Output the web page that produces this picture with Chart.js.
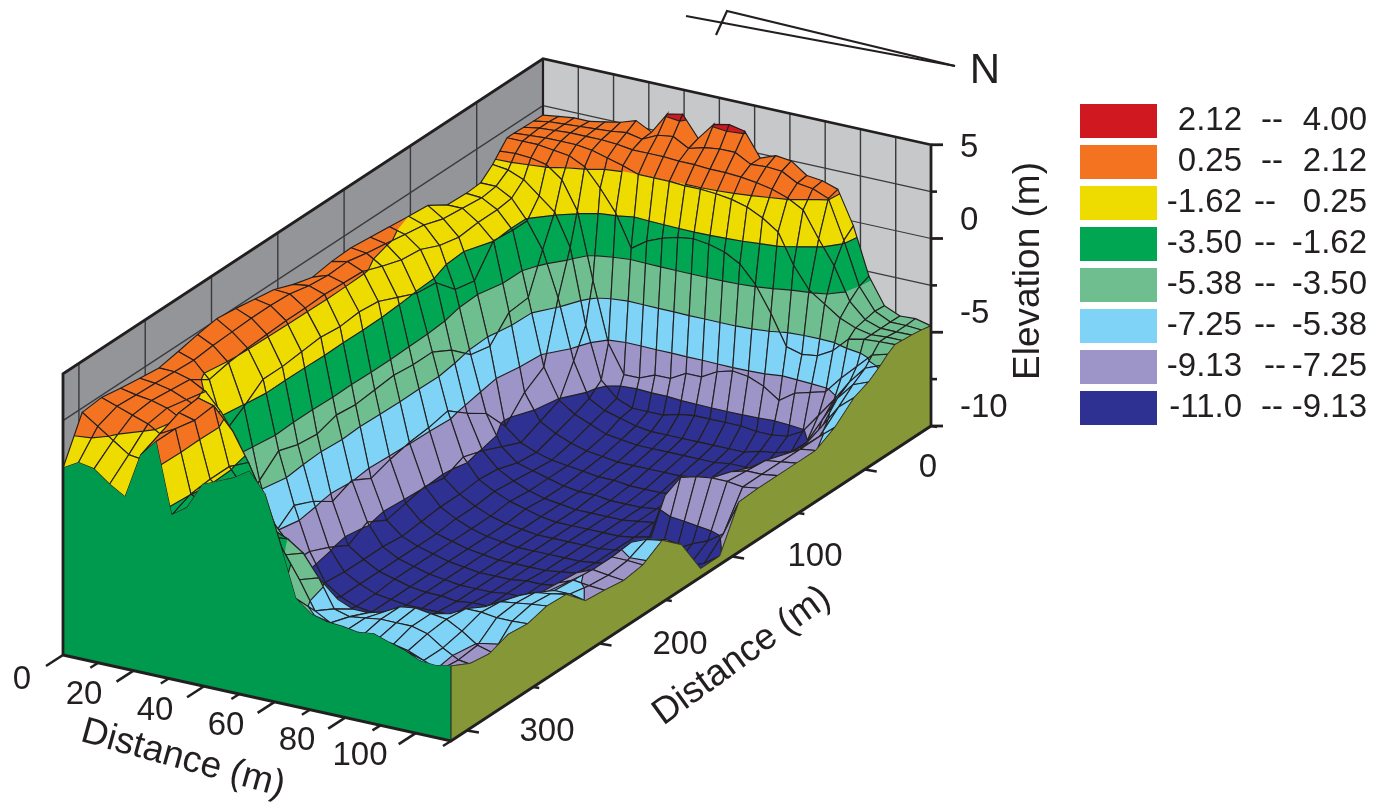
<!DOCTYPE html>
<html><head><meta charset="utf-8">
<style>html,body{margin:0;padding:0;background:#fff}canvas{display:block}</style>
<script src="https://cdn.jsdelivr.net/npm/chart.js@4/dist/chart.umd.js"></script>
</head><body><canvas id="c" width="1387" height="805"></canvas>
<script>
// ---------- data ----------
const xDistance=[0,4.4,8.8,13.2,17.6,22,26.4,30.8,35.2,39.6,44,48.4,52.8,57.2,61.6,66,70.4,74.8,79.2,83.6,88,92.4,96.8,101.2,105.6,110];
const yDistance=[312,297.5,283,268.6,254.1,239.6,225.1,210.6,196.2,181.7,167.2,152.7,138.2,123.8,109.3,94.8,80.3,65.8,51.4,36.9,22.4,7.9,-2.9,-12,-17.4,-22.9,-28.3,-35.5,-42.8,-50];
const r00=[-.92,-.5,-.64,-1.2,-1.63,.49,1.29,-2,-1.48,-.24,.07,.39,.86,-.03,-2.28,-4.63,-5.2,-5.4,-5.45,-5.57,-5.47,-5.71,-5.94,-6.27,-6.32,-6.18];
const r01=[1.1,.6,.1,-.4,-.5,.9,1.3,-1.6,-2,-2.2,-2.2,-2.4,-2.8,-3.5,-4.5,-5.8,-6.2,-6.4,-6.5,-6.5,-6.6,-6.7,-7,-7.3,-7.5,-6.65];
const r02=[1.2,.95,.7,.45,0,1.3,1.1,-1.5,-2.1,-2.5,-2.8,-3.2,-3.5,-4,-5,-6.3,-6.5,-6.4,-6.3,-6.3,-6.3,-6.5,-7,-7.4,-7.5,-6.79];
const r03=[1.05,.9,.8,.6,.2,1.4,1.2,-1.5,-2.4,-3.1,-3.8,-4.6,-6,-6.4,-6.6,-6.9,-6.9,-6.7,-6.3,-6.2,-6.3,-6.4,-6.8,-7.3,-7.5,-6.46];
const r04=[.93,.85,.7,.4,.1,-.1,-.6,-1.9,-3.4,-5,-6.5,-8,-9.2,-9.9,-10.1,-10.1,-10,-9.8,-9.4,-8.2,-6.9,-6.5,-6.5,-6.6,-6.6,-6.56];
const r05=[.82,.8,.6,.2,-.6,-1.7,-3.2,-4.8,-6.6,-8.5,-9.5,-10,-10.3,-10.5,-10.5,-10.5,-10.4,-10.3,-10.1,-9.7,-8.5,-7,-6.6,-6.5,-6.4,-6.32];
const r06=[1,.75,0,-2.3,-6,-7,-7.7,-8.8,-9.4,-10,-10.3,-10.5,-10.6,-10.7,-10.7,-10.7,-10.6,-10.5,-10.3,-10,-9.2,-7.6,-6.9,-6.6,-6.5,-6.37];
const r07=[1.2,.85,.2,-1.7,-5,-7.3,-8.6,-9.4,-10,-10.5,-10.6,-10.7,-10.8,-10.8,-10.8,-10.8,-10.8,-10.7,-10.6,-10.4,-9.8,-8.2,-7.4,-7.1,-7.1,-7.26];
const r08=[1.35,.9,.3,-1,-4.2,-6.6,-8.6,-9.9,-10.4,-10.7,-10.8,-10.8,-10.8,-10.8,-10.8,-10.8,-10.7,-10.6,-10.5,-10.3,-9.8,-8.6,-7.5,-7.2,-7.3,-7.35];
const r09=[1.25,.95,.35,-1,-4.5,-7,-9,-10,-10.4,-10.7,-10.8,-10.9,-10.9,-10.9,-10.9,-10.9,-10.8,-10.7,-10.6,-10.4,-10,-9,-7.6,-7.3,-7.4,-7.49];
const r10=[1.1,.95,.4,-.9,-4.6,-7.6,-9.5,-10,-10.4,-10.6,-10.8,-10.9,-10.9,-11,-10.9,-10.9,-10.8,-10.7,-10.6,-10.4,-10.2,-9.5,-8,-7.3,-7.3,-7.35];
const r11=[.95,.9,.4,-.8,-4.3,-7.2,-9,-10,-10.4,-10.6,-10.8,-10.9,-11,-11,-11,-10.9,-10.9,-10.8,-10.7,-10.5,-10.3,-9.8,-8.3,-7.2,-6.9,-6.79];
const r12=[.6,.7,.45,-.9,-4.4,-7.7,-9.5,-10.1,-10.4,-10.6,-10.8,-10.9,-11,-11,-11,-10.9,-10.9,-10.8,-10.7,-10.6,-10.4,-10,-9,-7.8,-7.5,-7.59];
const r13=[.35,.6,.4,-.8,-4.3,-7.4,-9.3,-10,-10.4,-10.6,-10.8,-10.9,-11,-11,-11,-11,-10.9,-10.8,-10.7,-10.6,-10.4,-10.2,-9.8,-9.5,-9.4,-9.3];
const r14=[.5,.65,.35,-.9,-4.2,-7.2,-9.1,-9.9,-10.3,-10.6,-10.8,-10.9,-11,-11,-11,-11,-11,-10.9,-10.8,-10.7,-10.6,-10.5,-10.3,-10.1,-9.8,-9.3];
const r15=[.55,.45,0,-1.3,-4.3,-7.1,-9.3,-9.9,-10.3,-10.6,-10.8,-10.9,-11,-11,-11,-11,-11,-10.9,-10.8,-10.7,-10.5,-10.2,-9.8,-9.5,-9,-7.35];
const r16=[.45,.3,-.3,-1.7,-4.3,-6.9,-8.9,-9.8,-10.2,-10.5,-10.7,-10.9,-11,-11,-11,-11,-11,-10.9,-10.7,-8.6,-7.6,-7.4,-7.3,-7.3,-7.4,-7.3];
const r17=[.35,.15,-.4,-1.8,-4.8,-7.6,-9.2,-9.9,-10.3,-10.6,-10.8,-10.9,-11,-11,-11,-11,-10.9,-10.8,-10.7,-10.5,-10.2,-8.6,-7.6,-7.4,-7.4,-7.3];
const r18=[.25,0,-.8,-2.7,-5.6,-8.2,-9.6,-10.2,-10.4,-10.6,-10.8,-10.9,-10.9,-11,-11,-11,-10.9,-10.8,-10.7,-10.6,-10.4,-9.5,-8,-7.5,-7.4,-7.3];
const r19=[.17,-.3,-1,-2.9,-5.8,-9.4,-10,-10.3,-10.5,-10.6,-10.7,-10.8,-10.8,-10.9,-10.9,-10.9,-10.8,-10.7,-10.6,-10.6,-10.5,-10.2,-9.3,-7.8,-7.4,-7.3];
const r20=[-.4,-.4,-.9,-1.6,-4.8,-8.4,-9.6,-10,-10.3,-10.5,-10.6,-10.7,-10.7,-10.7,-10.7,-10.7,-10.6,-10.5,-10.5,-10.5,-10.4,-10.3,-10,-8,-7.4,-6.8];
const r21=[-.45,-.5,-.9,-1.7,-4.7,-7.8,-9.2,-9.7,-10,-10.3,-10.4,-10.5,-10.5,-10.5,-10.5,-10.5,-10.5,-10.4,-10.4,-10.3,-10.2,-10,-9.5,-7.6,-6.6,-6];
const r22=[-.4,-.4,-.8,-1.7,-2.9,-5,-7.8,-9.4,-9.8,-10,-10.2,-10.3,-10.3,-10.3,-10.3,-10.3,-10.3,-10.3,-10.1,-10,-9.8,-9.2,-8,-6.8,-6,-5.71];
const r23=[.09,0,-.3,-.9,-1.5,-3,-6.5,-8.9,-9.6,-9.9,-9.9,-9.9,-9.7,-9.6,-9.6,-9.6,-9.6,-9.7,-9.7,-9.6,-9.2,-8.3,-7.4,-6.4,-5.6,-5.3];
const r24=[.5,.55,.5,.35,-.2,-1.5,-4.6,-7.4,-8.7,-8.7,-8.4,-8.4,-8,-8,-7.6,-7.4,-7.5,-7.8,-8.3,-7.8,-7.6,-7.4,-6.6,-5.9,-5.2,-5];
const r25=[.9,.9,.9,.8,.7,.35,-.5,-1.5,-3,-2.5,-2.2,-2,-1.9,-2,-2.2,-2.6,-3.4,-4.6,-6,-6.2,-6.1,-5.7,-5,-4.85,-4.8,-4.77];
const r26=[.9,.95,1,1,1,.9,.7,.5,.25,.25,.25,.2,.2,.15,.05,-.15,-.5,-1,-2.4,-3.4,-3.9,-4.4,-4.7,-4.85,-4.8,-4.8];
const r27=[.88,1,1.05,1.1,1.1,1.1,1.05,.95,.95,.95,.9,.9,.85,.85,.8,.7,.55,.3,-.1,-1.3,-2.4,-3.9,-4.6,-4.85,-4.85,-4.84];
const r28=[.87,1,1.05,1.1,1.15,1.2,1.3,1.15,1.5,1.6,1.2,1.4,1.5,1.5,1.1,1.15,1.1,.7,.6,.3,-1.5,-3.5,-4.5,-4.85,-4.85,-4.9];
const r29=[.86,.96,1.05,1.05,1.19,1.33,1.57,1.19,2.2,2.35,1.38,2.2,2.35,2.2,1.1,1.38,1.29,.77,.68,.44,-1.11,-3.31,-4.54,-4.86,-4.82,-5];
const elevationRows=[r00,r01,r02,r03,r04,r05,r06,r07,r08,r09,r10,r11,r12,r13,r14,r15,r16,r17,r18,r19,r20,r21,r22,r23,r24,r25,r26,r27,r28,r29];

const legendLow=["2.12","0.25","-1.62","-3.50","-5.38","-7.25","-9.13","-11.0"];
const legendHigh=["4.00","2.12","0.25","-1.62","-3.50","-5.38","-7.25","-9.13"];
const bandColors=["#CF1820","#F47321","#EEDC00","#00A651","#6FBE8F","#7FD3F7","#9D94C8","#2E3192"];
const xMajor=[0,20,40,60,80,100], xMinor=[10,30,50,70,90,110];
const yMajor=[0,100,200,300], yMinor=[-50,50,150,250];
const zMajor=[5,0,-5,-10], zMinor=[2.5,-2.5,-7.5];
const wallX=[10,20,30,40,50,60,70,80,90,100];
const wallY=[300,250,200,150,100,50,0];
const wallZ=[2.5,0,-2.5,-5,-7.5];

// ---------- projection into chart units ----------
const INK="#231F20";
const xMax=110,yFront=312,ySpan=362;
function base(x,y){const u=x/xMax,w=(yFront-y)/ySpan;return {x:63+388*u+480*w,y:655+86*u-315*w};}
function wallPt(x,y,z){const b=base(x,y);return {x:b.x,y:b.y-18.75*(z+10)};}
function surfPt(x,y,z){const b=base(x,y);return {x:b.x,y:b.y-21.3*(z+9.7),z:z};}

// ---------- datasets in paint order ----------
const paint=[];
function poly(pts,fill,stroke,lw){
  paint.push({data:pts.concat([pts[0]]).map(p=>({x:p.x,y:p.y})),showLine:true,fill:'shape',
    backgroundColor:fill,borderColor:stroke||'transparent',borderWidth:lw||0,pointRadius:0,tension:0,clip:false,borderJoinStyle:'round'});
}
function line(pts,color,lw){
  paint.push({data:pts.map(p=>p?({x:p.x,y:p.y}):({x:null,y:null})),showLine:true,fill:false,
    borderColor:color,borderWidth:lw,pointRadius:0,tension:0,clip:false,spanGaps:false,borderCapStyle:'butt'});
}
const xEnd=xMax, yB=-50;
// walls
poly([wallPt(0,yFront,5),wallPt(0,yB,5),wallPt(0,yB,-10),wallPt(0,yFront,-10)],"#939598");
poly([wallPt(0,yB,5),wallPt(xEnd,yB,5),wallPt(xEnd,yB,-10),wallPt(0,yB,-10)],"#C7C8CA");
wallX.forEach(x=>line([wallPt(x,yB,5),wallPt(x,yB,-10)],"#3a3a3c",1.4));
wallY.forEach(y=>line([wallPt(0,y,5),wallPt(0,y,-10)],"#3a3a3c",1.4));
wallZ.forEach(z=>{line([wallPt(0,yB,z),wallPt(xEnd,yB,z)],"#3a3a3c",1.2);line([wallPt(0,yFront,z),wallPt(0,yB,z)],"#3a3a3c",1.2);});
line([wallPt(0,yB,5),wallPt(0,yB,-10)],INK,2.2);

// surface
const lows=[2.12,.25,-1.62,-3.5,-5.38,-7.25,-9.13,-Infinity];
const highs=[Infinity,2.12,.25,-1.62,-3.5,-5.38,-7.25,-9.13];
function cut(pg,t,keepAbove){
  const out=[];
  for(let i=0;i<pg.length;i++){
    const a=pg[i],b=pg[(i+1)%pg.length];
    const ia=keepAbove?a.z>=t:a.z<=t, ib=keepAbove?b.z>=t:b.z<=t;
    if(ia) out.push(a);
    if(ia!==ib){const f=(t-a.z)/(b.z-a.z);out.push({x:a.x+(b.x-a.x)*f,y:a.y+(b.y-a.y)*f,z:t});}
  }
  return out;
}
function crossing(pg,t){
  const c=[];
  for(let i=0;i<pg.length;i++){
    const a=pg[i],b=pg[(i+1)%pg.length];
    if((a.z-t)*(b.z-t)<0){const f=(t-a.z)/(b.z-a.z);c.push({x:a.x+(b.x-a.x)*f,y:a.y+(b.y-a.y)*f});}
  }
  return c;
}
const MESH=1.15;
for(let j=yDistance.length-2;j>=0;j--){
  for(let i=0;i<xDistance.length-1;i++){
    const q=[surfPt(xDistance[i],yDistance[j],elevationRows[j][i]),
             surfPt(xDistance[i+1],yDistance[j],elevationRows[j][i+1]),
             surfPt(xDistance[i+1],yDistance[j+1],elevationRows[j+1][i+1]),
             surfPt(xDistance[i],yDistance[j+1],elevationRows[j+1][i])];
    const pieces=[];
    bandColors.forEach((col,b)=>{
      let pg=q;
      if(isFinite(lows[b])) pg=cut(pg,lows[b],true);
      if(pg.length>=3&&isFinite(highs[b])) pg=cut(pg,highs[b],false);
      if(pg.length>=3) pieces.push({pg,col});
    });
    if(pieces.length===1){poly(q,pieces[0].col,INK,MESH);continue;}
    pieces.forEach(p=>poly(p.pg,p.col,p.col,0.4));
    const path=q.concat([q[0]]);
    lows.forEach(t=>{
      if(!isFinite(t))return;
      const c=crossing(q,t);
      if(c.length===2){path.push(null,c[0],c[1]);}
      else if(c.length===4){path.push(null,c[0],c[1],null,c[2],c[3]);}
    });
    line(path,INK,MESH);
  }
}
// front and side faces
const frontTop=xDistance.map((x,i)=>surfPt(x,yFront,r00[i]));
poly([wallPt(0,yFront,-10)].concat(frontTop,[wallPt(xMax,yFront,-10)]),"#009A4E");
const sideTop=yDistance.map((y,j)=>surfPt(xMax,y,elevationRows[j][25]));
poly([wallPt(xMax,yFront,-10)].concat(sideTop,[wallPt(xMax,yB,-10)]),"#869737");
line([wallPt(xMax,yFront,-10),frontTop[25]],INK,1);
line(sideTop,"#3a3a20",0.8);
line([wallPt(xMax,yB,-10),sideTop[sideTop.length-1]],INK,1);

// axes
line([wallPt(0,yFront,-10),wallPt(0,yFront,5),wallPt(0,yB,5),wallPt(xMax,yB,5),wallPt(xMax,yB,-10)],INK,2.8);
line([wallPt(0,yFront,-10),wallPt(xMax,yFront,-10),wallPt(xMax,yB,-10)],INK,3);
function tick(p,dx,dy,lw){line([p,{x:p.x+dx,y:p.y+dy}],INK,lw);}
xMajor.forEach(x=>tick(wallPt(x,yFront,-10),-17,11,2.6));
xMinor.forEach(x=>tick(wallPt(x,yFront,-10),-8,5,2.4));
yMajor.forEach(y=>tick(wallPt(xMax,y,-10),12,2,2.4));
yMinor.forEach(y=>tick(wallPt(xMax,y,-10),6,1,2.4));
zMajor.forEach(z=>tick(wallPt(xMax,yB,z),12,0,2.8));
zMinor.forEach(z=>tick(wallPt(xMax,yB,z),6,0,2.6));

// north arrow
line([{x:686,y:16},{x:955,y:66}],INK,2.2);
line([{x:716,y:35},{x:727,y:11},{x:955,y:66}],INK,2.2);

// legend swatches
bandColors.forEach((c,i)=>{
  const t=104+41*i;
  poly([{x:1080,y:t},{x:1157,y:t},{x:1157,y:t+34},{x:1080,y:t+34}],c);
});

// ---------- text ----------
const FONT='"Liberation Sans", Arial, sans-serif';
const dashX=[1272,1272,1265,1265,1265,1265,1275,1272];
const xLabelPos=[[22,680],[84,695],[155,711],[226,726],[297,741],[360,756]];
const yLabelPos=[[928,468],[815,557],[680,645],[547,732]];
const zLabelPos=[148,221,314,408];
const textPlugin={id:'labels',afterDraw(chart){
  const g=chart.ctx;g.save();g.fillStyle=INK;g.textBaseline='middle';
  const T=(s,x,y,size,al,rot)=>{g.save();g.translate(x,y);g.rotate((rot||0)*Math.PI/180);
    g.font=size+'px '+FONT;g.textAlign=al||'center';g.fillText(s,0,0);g.restore();};
  xMajor.forEach((v,i)=>T(String(v),xLabelPos[i][0],xLabelPos[i][1],33));
  yMajor.forEach((v,i)=>T(String(v),yLabelPos[i][0],yLabelPos[i][1],33));
  zMajor.forEach((v,i)=>T(String(v),960,zLabelPos[i],33,'left'));
  T("Distance (m)",183,759,37,'center',15.5);
  T("Distance (m)",742,656,37,'center',-36);
  T("Elevation (m)",1029,271,37,'center',-90);
  T("N",985,71,42);
  legendLow.forEach((s,i)=>{const y=121+41*i;
    T(s,1242,y,33,'right');T("--",dashX[i],y,33);T(legendHigh[i],1367,y,33,'right');});
  g.restore();
}};

new Chart(document.getElementById('c'),{
  type:'scatter',
  data:{datasets:paint.slice().reverse()},
  options:{responsive:false,animation:false,events:[],devicePixelRatio:1,
    layout:{padding:0},
    plugins:{legend:{display:false},tooltip:{enabled:false},title:{display:false}},
    scales:{x:{type:'linear',min:0,max:1387,display:false},y:{type:'linear',min:0,max:805,reverse:true,display:false}}},
  plugins:[textPlugin]
});
</script></body></html>
